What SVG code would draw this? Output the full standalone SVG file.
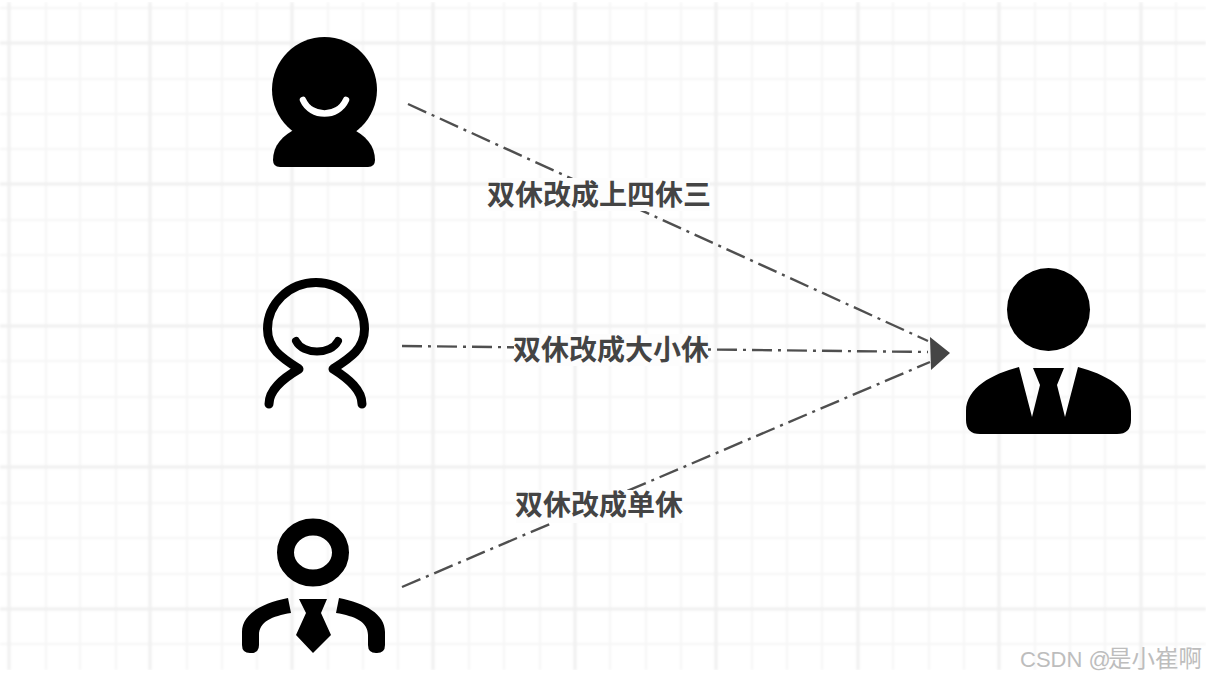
<svg xmlns="http://www.w3.org/2000/svg" width="1206" height="678" viewBox="0 0 1206 678">
<defs>
<style>
.minor{stroke:#f5f5f5;stroke-width:2;fill:none}
.major{stroke:#efefef;stroke-width:3;fill:none}
.link{stroke:#505050;stroke-width:2.4;fill:none;stroke-dasharray:20 6 3 6}
.label{font-family:"Noto Sans CJK SC","Liberation Sans",sans-serif;font-weight:700;font-size:28px;fill:#444;text-anchor:middle}
.mask{fill:#fdfdfd}
.outline{fill:none;stroke:#000;stroke-linecap:round;stroke-linejoin:round}
.wm{font-family:"Liberation Sans","Noto Sans CJK SC",sans-serif;font-size:22px;fill:#bdbdbd}
.wmc{font-family:"Noto Sans CJK SC",sans-serif;font-size:23.500px;fill:#bdbdbd}
</style>
<filter id="soft" x="-20%" y="-20%" width="140%" height="140%"><feGaussianBlur stdDeviation="0.6"/></filter>
<filter id="softer" x="0" y="0" width="100%" height="100%"><feGaussianBlur stdDeviation="0.8"/></filter>
</defs>
<rect width="1206" height="678" fill="#fff"/>
<g id="grid" filter="url(#softer)">
<path class="minor" d="M46 2V670M80 2V670M116 2V670M187 2V670M222 2V670M257 2V670M328 2V670M363 2V670M398 2V670M469 2V670M504 2V670M540 2V670M610 2V670M646 2V670M681 2V670M752 2V670M787 2V670M822 2V670M893 2V670M929 2V670M964 2V670M1035 2V670M1070 2V670M1105 2V670M1176 2V670"/>
<path class="minor" d="M0 8H1206M0 79H1206M0 114H1206M0 149H1206M0 220H1206M0 255H1206M0 291H1206M0 361H1206M0 397H1206M0 432H1206M0 503H1206M0 538H1206M0 574H1206M0 644H1206"/>
<path class="major" d="M9 2V670M150 2V670M292 2V670M433 2V670M575 2V670M716 2V670M858 2V670M999 2V670M1141 2V670"/>
<path class="major" d="M0 43H1206M0 184H1206M0 326H1206M0 467H1206M0 609H1206"/>
</g>
<g id="connectors" filter="url(#soft)">
<path class="link" d="M408 104L928 341"/>
<path class="link" d="M402 346L928 352"/>
<path class="link" d="M402 587L930 362"/>
<path d="M930 337L950 353L931 370Z" fill="#444"/>
</g>
<g id="label-1"><rect class="mask" x="488" y="178" width="222" height="33"/><text class="label" x="599" y="205">双休改成上四休三</text></g>
<g id="label-2"><rect class="mask" x="514" y="334" width="194" height="32"/><text class="label" x="611" y="360">双休改成大小休</text></g>
<g id="label-3"><rect class="mask" x="516" y="490" width="166" height="33"/><text class="label" x="599" y="515">双休改成单休</text></g>
<g id="person-top" filter="url(#soft)">
<circle cx="324.500" cy="89.500" r="52.500"/>
<path d="M298 128C282 135 273 146 273 160Q273 167 280 167H368Q375 167 375 160C375 146 366 135 350 128Z"/>
<path d="M303 100C311 118 338 118 346 100" fill="none" stroke="#fff" stroke-width="6.500" stroke-linecap="round"/>
</g>
<g id="person-middle" filter="url(#soft)">
<path class="outline" stroke-width="9" d="M269 404C269 390 282 379 299 369C282 358 267.500 349 267.500 329C267.500 304 289 282.500 316 282.500C343 282.500 364.500 304 364.500 329C364.500 349 350 358 333 369C349 379 362 390 362 404"/>
<path class="outline" stroke-width="8" d="M296 341C303 355 331 355 338 341"/>
</g>
<g id="person-bottom" filter="url(#soft)">
<ellipse cx="313" cy="552.500" rx="27.500" ry="25.500" fill="none" stroke="#000" stroke-width="17"/>
<path d="M299 599H327L321 613L331 635L313 653L296 635L306 613Z"/>
<path id="shoulder-left" d="M288 598L291 613C272 616 259 622 259 635V645Q259 653 251 653H250Q242 653 242 645V632C242 614 262 603 288 598Z"/>
<path id="shoulder-right" d="M339 598L336 613C355 616 368 622 368 635V645Q368 653 376 653H377Q385 653 385 645V632C385 614 365 603 339 598Z"/>
</g>
<g id="boss" filter="url(#soft)">
<circle cx="1048.500" cy="309.500" r="41.500"/>
<path d="M1019 367L1032 417L1040 385L1033 368H1064L1057 385L1065 417L1078 367C1105 374 1131 388 1131 411V420Q1131 434 1117 434H980Q966 434 966 420V411C966 388 992 374 1019 367Z"/>
</g>
<g id="watermark"><text class="wm" x="1020" y="667">CSDN @</text><text class="wmc" x="1108" y="667">是小崔啊</text></g>
</svg>
